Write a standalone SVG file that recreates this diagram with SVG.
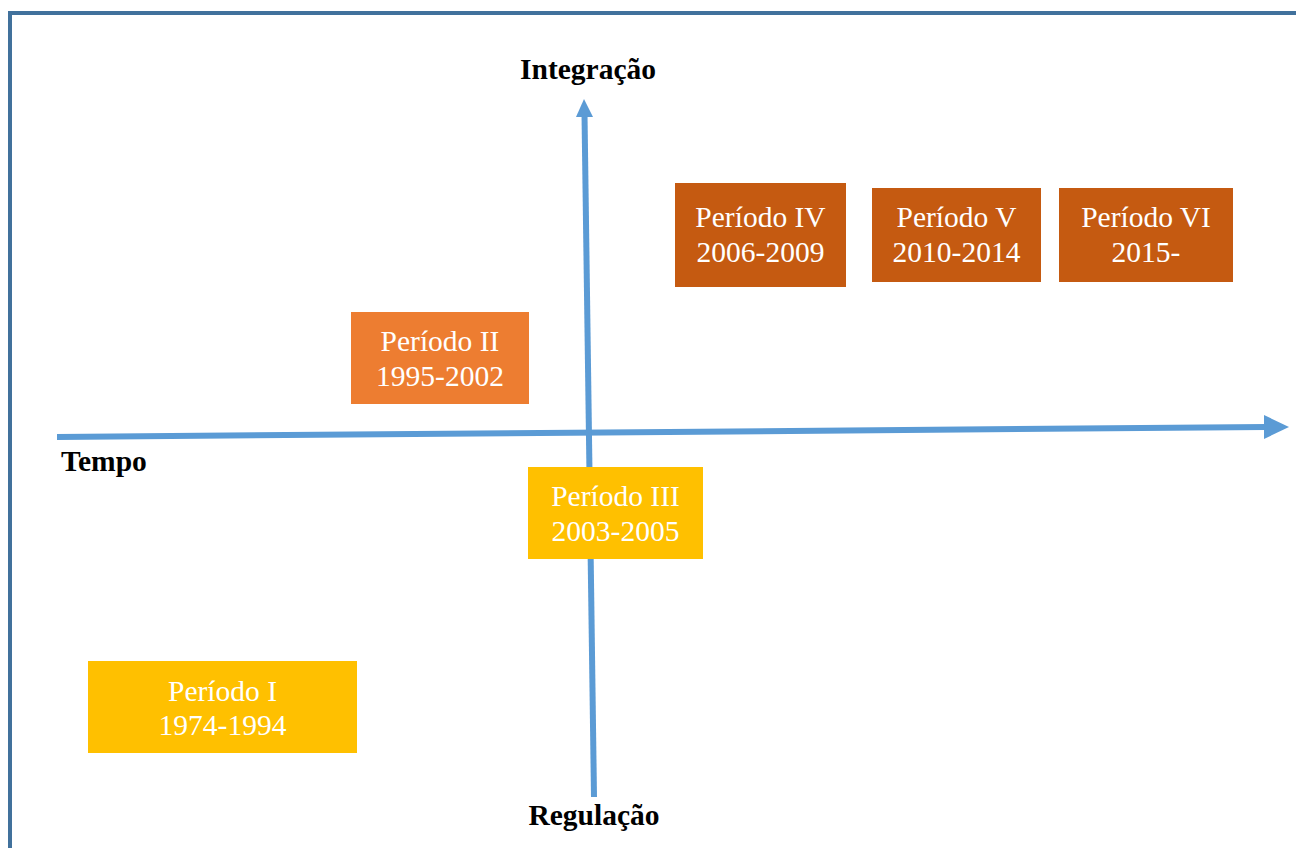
<svg xmlns="http://www.w3.org/2000/svg" width="1296" height="848" viewBox="0 0 1296 848">
  <style>
    .frame { fill: none; stroke: #41719C; stroke-width: 4; }
    .axis { stroke: #5B9BD5; stroke-width: 6; fill: none; }
    .head { fill: #5B9BD5; }
    .lbl { font-family: "Liberation Serif", "Times New Roman", serif; font-weight: bold; font-size: 29.5px; fill: #000; }
    .per { font-family: "Liberation Serif", "Times New Roman", serif; font-size: 29.5px; fill: #fff; text-anchor: middle; }
    .c1 { fill: #FFC000; }
    .c2 { fill: #ED7D31; }
    .c3 { fill: #C55A11; }
  </style>

  <rect width="1296" height="848" fill="#fff"/>
  <!-- page frame: top and left edges -->
  <path class="frame" d="M10,848 V13 H1296"/>

  <!-- axes -->
  <g id="axes">
    <line class="axis" x1="57" y1="437" x2="1266" y2="427"/>
    <polygon class="head" points="1264,415 1289,427 1264,439"/>
    <line class="axis" x1="594" y1="797" x2="584.5" y2="114"/>
    <polygon class="head" points="576,117 584,99 593,117"/>
  </g>

  <g id="label-integracao"><text class="lbl" x="588" y="79" text-anchor="middle">Integração</text></g>
  <g id="label-tempo"><text class="lbl" x="61" y="471">Tempo</text></g>
  <g id="label-regulacao"><text class="lbl" x="594" y="825" text-anchor="middle">Regulação</text></g>

  <g id="periodo-1">
    <rect class="c1" x="88" y="661" width="269" height="92"/>
    <text class="per" x="222.5" y="701">Período I</text>
    <text class="per" x="222.5" y="735">1974-1994</text>
  </g>
  <g id="periodo-2">
    <rect class="c2" x="351" y="312" width="178" height="92"/>
    <text class="per" x="440" y="351">Período II</text>
    <text class="per" x="440" y="386">1995-2002</text>
  </g>
  <g id="periodo-3">
    <rect class="c1" x="528" y="467" width="175" height="92"/>
    <text class="per" x="615.5" y="506">Período III</text>
    <text class="per" x="615.5" y="541">2003-2005</text>
  </g>
  <g id="periodo-4">
    <rect class="c3" x="675" y="183" width="171" height="104"/>
    <text class="per" x="760.5" y="227">Período IV</text>
    <text class="per" x="760.5" y="262">2006-2009</text>
  </g>
  <g id="periodo-5">
    <rect class="c3" x="872" y="188" width="169" height="94"/>
    <text class="per" x="956.5" y="227">Período V</text>
    <text class="per" x="956.5" y="262">2010-2014</text>
  </g>
  <g id="periodo-6">
    <rect class="c3" x="1059" y="188" width="174" height="94"/>
    <text class="per" x="1146" y="227">Período VI</text>
    <text class="per" x="1146" y="262">2015-</text>
  </g>
</svg>
